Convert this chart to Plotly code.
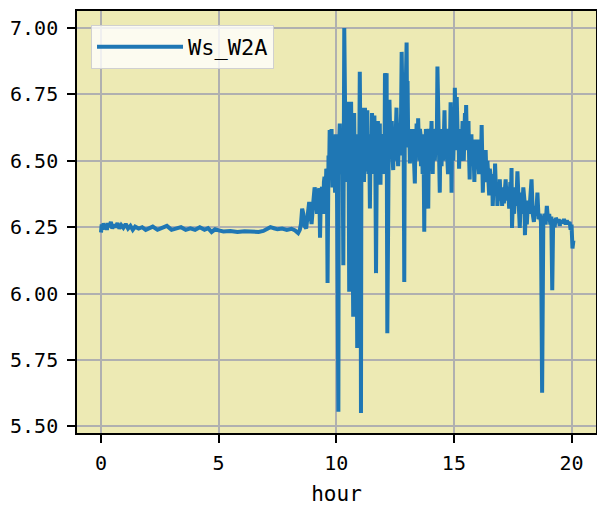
import plotly.graph_objects as go

hour = [
    0.00, 0.03, 0.07, 0.11, 0.15, 0.20, 0.25, 0.30, 0.36, 0.42,
    0.48, 0.55, 0.62, 0.70, 0.78, 0.86, 0.95, 1.05, 1.15, 1.25,
    1.35, 1.45, 1.60, 1.75, 1.90, 2.05, 2.20, 2.40, 2.60, 2.80,
    3.00, 3.20, 3.40, 3.60, 3.80, 4.00, 4.20, 4.40, 4.55, 4.70,
    4.85, 5.00, 5.20, 5.50, 5.80, 6.10, 6.40, 6.70, 6.90, 7.05,
    7.20, 7.35, 7.50, 7.70, 7.90, 8.10, 8.25, 8.38, 8.45, 8.50,
    8.55, 8.60, 8.65, 8.72, 8.78, 8.85, 8.90, 8.95, 9.02, 9.08,
    9.13, 9.18, 9.23, 9.28, 9.31, 9.35, 9.40, 9.45, 9.475, 9.50,
    9.525, 9.55, 9.575, 9.60, 9.63, 9.65, 9.67, 9.695, 9.72, 9.74,
    9.76, 9.78, 9.80, 9.82, 9.84, 9.87, 9.90, 9.925, 9.95, 9.975,
    10.00, 10.02, 10.04, 10.09, 10.105, 10.12, 10.135, 10.15, 10.175, 10.20,
    10.225, 10.25, 10.275, 10.30, 10.34, 10.36, 10.38, 10.40, 10.42, 10.44,
    10.46, 10.48, 10.50, 10.525, 10.55, 10.57, 10.59, 10.61, 10.63, 10.65,
    10.67, 10.72, 10.74, 10.76, 10.78, 10.80, 10.825, 10.85, 10.89, 10.91,
    10.93, 10.95, 10.97, 11.00, 11.03, 11.05, 11.07, 11.09, 11.115, 11.14,
    11.16, 11.18, 11.20, 11.22, 11.245, 11.27, 11.295, 11.32, 11.345, 11.37,
    11.40, 11.43, 11.455, 11.48, 11.50, 11.52, 11.545, 11.57, 11.595, 11.62,
    11.64, 11.66, 11.69, 11.71, 11.73, 11.75, 11.77, 11.79, 11.81, 11.83,
    11.85, 11.865, 11.88, 11.905, 11.93, 11.955, 11.98, 12.005, 12.03, 12.05,
    12.07, 12.09, 12.11, 12.125, 12.14, 12.17, 12.19, 12.21, 12.235, 12.26,
    12.285, 12.31, 12.335, 12.36, 12.39, 12.42, 12.445, 12.47, 12.495, 12.52,
    12.54, 12.56, 12.58, 12.60, 12.615, 12.63, 12.655, 12.68, 12.705, 12.73,
    12.755, 12.78, 12.80, 12.82, 12.84, 12.86, 12.89, 12.91, 12.93, 12.96,
    12.99, 13.01, 13.03, 13.055, 13.08, 13.105, 13.13, 13.155, 13.18, 13.205,
    13.23, 13.255, 13.28, 13.31, 13.34, 13.365, 13.39, 13.415, 13.44, 13.46,
    13.48, 13.505, 13.53, 13.555, 13.58, 13.60, 13.62, 13.645, 13.67, 13.69,
    13.71, 13.74, 13.76, 13.78, 13.81, 13.84, 13.86, 13.88, 13.91, 13.93,
    13.95, 13.975, 14.00, 14.025, 14.05, 14.075, 14.10, 14.125, 14.15, 14.17,
    14.19, 14.215, 14.24, 14.27, 14.30, 14.325, 14.35, 14.375, 14.40, 14.425,
    14.45, 14.475, 14.50, 14.525, 14.55, 14.575, 14.60, 14.625, 14.65, 14.675,
    14.70, 14.725, 14.75, 14.775, 14.80, 14.83, 14.86, 14.88, 14.90, 14.925,
    14.95, 14.975, 15.00, 15.02, 15.04, 15.06, 15.08, 15.10, 15.12, 15.145,
    15.17, 15.195, 15.22, 15.245, 15.27, 15.295, 15.32, 15.345, 15.37, 15.395,
    15.42, 15.445, 15.47, 15.495, 15.52, 15.545, 15.57, 15.595, 15.62, 15.645,
    15.67, 15.695, 15.72, 15.745, 15.77, 15.795, 15.82, 15.845, 15.87, 15.895,
    15.92, 15.945, 15.97, 15.995, 16.02, 16.045, 16.07, 16.095, 16.12, 16.15,
    16.18, 16.205, 16.23, 16.255, 16.28, 16.315, 16.35, 16.375, 16.40, 16.425,
    16.45, 16.475, 16.50, 16.525, 16.55, 16.575, 16.60, 16.625, 16.65, 16.675,
    16.70, 16.725, 16.75, 16.775, 16.80, 16.825, 16.85, 16.875, 16.90, 16.925,
    16.95, 16.975, 17.00, 17.025, 17.05, 17.075, 17.10, 17.125, 17.15, 17.175,
    17.20, 17.225, 17.25, 17.275, 17.30, 17.325, 17.35, 17.375, 17.40, 17.425,
    17.45, 17.47, 17.50, 17.52, 17.56, 17.60, 17.65, 17.70, 17.75, 17.80,
    17.85, 17.90, 17.95, 18.00, 18.02, 18.06, 18.10, 18.15, 18.20, 18.25,
    18.30, 18.35, 18.40, 18.45, 18.50, 18.55, 18.60, 18.65, 18.70, 18.75,
    18.80, 18.85, 18.90, 18.95, 19.00, 19.05, 19.10, 19.14, 19.18, 19.22,
    19.28, 19.33, 19.40, 19.45, 19.50, 19.55, 19.62, 19.68, 19.75, 19.80,
    19.86, 19.92, 19.96, 20.00, 20.04, 20.08,
]

ws_w2a = [
    6.230, 6.260, 6.240, 6.265, 6.245, 6.260, 6.240, 6.265, 6.250, 6.270,
    6.245, 6.260, 6.250, 6.265, 6.245, 6.258, 6.248, 6.262, 6.245, 6.255,
    6.240, 6.252, 6.245, 6.250, 6.240, 6.248, 6.252, 6.240, 6.246, 6.255,
    6.240, 6.246, 6.250, 6.240, 6.246, 6.240, 6.250, 6.240, 6.246, 6.232,
    6.242, 6.238, 6.234, 6.236, 6.232, 6.235, 6.234, 6.232, 6.236, 6.245,
    6.250, 6.246, 6.242, 6.245, 6.240, 6.244, 6.238, 6.228, 6.240, 6.262,
    6.320, 6.300, 6.255, 6.245, 6.300, 6.345, 6.300, 6.262, 6.340, 6.400,
    6.380, 6.300, 6.385, 6.395, 6.210, 6.390, 6.400, 6.300, 6.420, 6.440,
    6.350, 6.380, 6.470, 6.460, 6.040, 6.480, 6.520, 6.450, 6.616, 6.500,
    6.450, 6.560, 6.620, 6.480, 6.400, 6.580, 6.550, 6.450, 6.380, 6.600,
    6.550, 6.480, 6.300, 5.555, 6.520, 6.450, 6.600, 6.640, 6.450, 6.500,
    6.580, 6.620, 6.480, 6.107, 7.000, 6.500, 6.600, 6.480, 6.700, 6.550,
    6.420, 6.620, 6.722, 6.500, 6.007, 6.580, 6.650, 6.480, 6.722, 6.560,
    6.450, 5.913, 6.550, 6.680, 6.500, 6.450, 6.600, 6.550, 5.795, 6.600,
    6.550, 6.480, 6.420, 6.835, 6.500, 5.550, 6.620, 6.550, 6.480, 6.700,
    6.550, 6.420, 6.600, 6.700, 6.460, 6.500, 6.620, 6.690, 6.520, 6.450,
    6.580, 6.320, 6.550, 6.600, 6.500, 6.680, 6.520, 6.450, 6.600, 6.670,
    6.560, 6.500, 6.077, 6.550, 6.600, 6.480, 6.650, 6.520, 6.420, 6.580,
    6.640, 6.500, 6.410, 6.600, 6.550, 6.480, 6.450, 6.560, 6.600, 6.480,
    6.830, 6.600, 6.550, 6.700, 6.830, 5.851, 6.500, 6.550, 6.620, 6.730,
    6.580, 6.530, 6.600, 6.650, 6.520, 6.465, 6.580, 6.600, 6.500, 6.580,
    6.640, 6.700, 6.600, 6.550, 6.600, 6.480, 6.560, 6.620, 6.520, 6.600,
    6.680, 6.910, 6.620, 6.700, 6.560, 6.650, 6.044, 6.580, 6.650, 6.720,
    6.945, 6.650, 6.800, 6.600, 6.550, 6.620, 6.490, 6.560, 6.600, 6.540,
    6.500, 6.620, 6.560, 6.480, 6.415, 6.580, 6.550, 6.640, 6.600, 6.520,
    6.660, 6.560, 6.500, 6.620, 6.600, 6.480, 6.570, 6.600, 6.450, 6.520,
    6.550, 6.233, 6.520, 6.500, 6.620, 6.580, 6.500, 6.450, 6.320, 6.520,
    6.550, 6.620, 6.500, 6.580, 6.650, 6.520, 6.450, 6.600, 6.550, 6.620,
    6.500, 6.560, 6.620, 6.540, 6.855, 6.600, 6.550, 6.500, 6.380, 6.580,
    6.550, 6.480, 6.620, 6.560, 6.500, 6.600, 6.690, 6.560, 6.530, 6.620,
    6.600, 6.500, 6.450, 6.560, 6.600, 6.550, 6.720, 6.550, 6.380, 6.600,
    6.550, 6.500, 6.600, 6.560, 6.775, 6.620, 6.600, 6.540, 6.740, 6.600,
    6.550, 6.620, 6.470, 6.560, 6.600, 6.500, 6.520, 6.580, 6.650, 6.540,
    6.500, 6.600, 6.680, 6.560, 6.710, 6.600, 6.540, 6.620, 6.650, 6.520,
    6.430, 6.580, 6.550, 6.600, 6.480, 6.540, 6.580, 6.500, 6.420, 6.520,
    6.550, 6.580, 6.470, 6.520, 6.560, 6.480, 6.450, 6.580, 6.540, 6.480,
    6.635, 6.500, 6.380, 6.480, 6.500, 6.440, 6.540, 6.460, 6.420, 6.500,
    6.460, 6.420, 6.370, 6.470, 6.450, 6.380, 6.400, 6.450, 6.330, 6.410,
    6.440, 6.380, 6.490, 6.420, 6.380, 6.420, 6.330, 6.380, 6.400, 6.360,
    6.430, 6.380, 6.350, 6.400, 6.330, 6.380, 6.400, 6.340, 6.360, 6.410,
    6.430, 6.380, 6.350, 6.390, 6.400, 6.360, 6.320, 6.380, 6.420, 6.360,
    6.473, 6.247, 6.350, 6.380, 6.300, 6.400, 6.330, 6.460, 6.350, 6.247,
    6.380, 6.300, 6.400, 6.350, 6.220, 6.330, 6.260, 6.350, 6.300, 6.380,
    6.430, 6.300, 6.270, 6.330, 6.300, 6.380, 6.280, 6.300, 6.270, 5.627,
    6.270, 6.300, 6.260, 6.330, 6.280, 6.300, 6.260, 6.290, 6.013, 6.280,
    6.250, 6.285, 6.270, 6.280, 6.255, 6.275, 6.265, 6.280, 6.260, 6.275,
    6.262, 6.270, 6.240, 6.260, 6.170, 6.200,
]

x_ticks = [0, 5, 10, 15, 20]
y_ticks = [5.50, 5.75, 6.00, 6.25, 6.50, 6.75, 7.00]
y_tick_text = ["%.2f" % v for v in y_ticks]

FONT = "DejaVu Sans Mono"

fig = go.Figure()
fig.add_trace(go.Scatter(
    x=hour, y=ws_w2a, mode="lines", name="Ws_W2A",
    line=dict(color="#1f77b4", width=4),
))

axis_common = dict(
    showgrid=True, gridcolor="#b0b0b0", gridwidth=1.8,
    showline=True, linecolor="black", linewidth=1.6, mirror=True,
    ticks="outside", ticklen=8, tickwidth=1.6, tickcolor="black",
    zeroline=False, automargin=False,
    tickfont=dict(family=FONT, size=20, color="black"),
)

fig.update_layout(
    width=597, height=506,
    margin=dict(l=77, r=1, t=11, b=73),
    paper_bgcolor="white",
    plot_bgcolor="#EDEAB4",
    font=dict(family=FONT, color="black"),
    showlegend=True,
    legend=dict(
        x=0.027, y=0.967, xanchor="left", yanchor="top",
        bgcolor="rgba(255,255,255,0.8)", bordercolor="#d0d0d0", borderwidth=1,
        font=dict(family=FONT, size=22, color="black"),
        itemwidth=86,
    ),
    xaxis=dict(
        range=[-1.02, 21.04], tickvals=x_ticks,
        ticklabelstandoff=3,
        title=dict(text="hour", font=dict(family=FONT, size=21), standoff=16),
        **axis_common,
    ),
    yaxis=dict(
        range=[5.475, 7.064], tickvals=y_ticks, ticktext=y_tick_text,
        ticklabelstandoff=5,
        **axis_common,
    ),
)

# remove the browser's default 8px page margin so the figure fills the window
fig.write_html(
    "out.html",
    config={"displayModeBar": False},
    post_script="document.body.style.margin='0';",
)
